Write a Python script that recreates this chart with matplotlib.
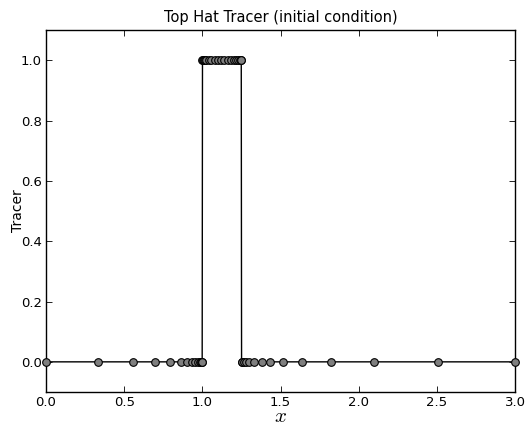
import numpy as np
import matplotlib
matplotlib.use('Agg')
import matplotlib.pyplot as plt

plt.rcParams['mathtext.fontset'] = 'cm'

# cell centres (grid stretched toward the hat edges)
x_left = [0.0, 0.334, 0.556, 0.699, 0.796, 0.863, 0.905, 0.935, 0.956,
          0.972, 0.983, 0.991, 0.996, 0.999]
x_hat = [1.001, 1.004, 1.009, 1.016, 1.026, 1.04, 1.058, 1.078, 1.099,
         1.12, 1.141, 1.162, 1.183, 1.202, 1.218, 1.231, 1.24, 1.246, 1.249]
x_right = [1.251, 1.256, 1.265, 1.28, 1.30, 1.33, 1.384, 1.435, 1.514,
           1.638, 1.821, 2.097, 2.508, 3.0]

tracer_left = [0.0] * len(x_left)
tracer_hat = [1.0] * len(x_hat)
tracer_right = [0.0] * len(x_right)

x = np.array(x_left + x_hat + x_right)
tracer = np.array(tracer_left + tracer_hat + tracer_right)

fig = plt.figure(figsize=(5.28, 4.25), dpi=100)
ax = fig.add_axes([0.0871, 0.0776, 0.8883, 0.8518])
ax.plot(x, tracer, color='black', linewidth=1.0, marker='o',
        markersize=5.5, markerfacecolor='#7f7f7f', markeredgecolor='black',
        markeredgewidth=0.8, clip_on=False, zorder=3)

ax.set_xlim(0, 3)
ax.set_ylim(-0.1, 1.1)
ax.set_xticks([0.0, 0.5, 1.0, 1.5, 2.0, 2.5, 3.0])
ax.set_yticks([0.0, 0.2, 0.4, 0.6, 0.8, 1.0])
ax.xaxis.set_major_formatter(matplotlib.ticker.FormatStrFormatter('%.1f'))
ax.yaxis.set_major_formatter(matplotlib.ticker.FormatStrFormatter('%.1f'))
ax.tick_params(direction='in', top=True, right=True, labelsize=9.5,
               length=4, width=0.6, pad=3)
for s in ax.spines.values():
    s.set_linewidth(1.0)

ax.set_title('Top Hat Tracer (initial condition)', fontsize=10.5, pad=6)
ax.set_xlabel('$x$', fontsize=15, labelpad=-2)
ax.set_ylabel('Tracer', fontsize=10, labelpad=-3)

fig.savefig('out.png', dpi=100)
